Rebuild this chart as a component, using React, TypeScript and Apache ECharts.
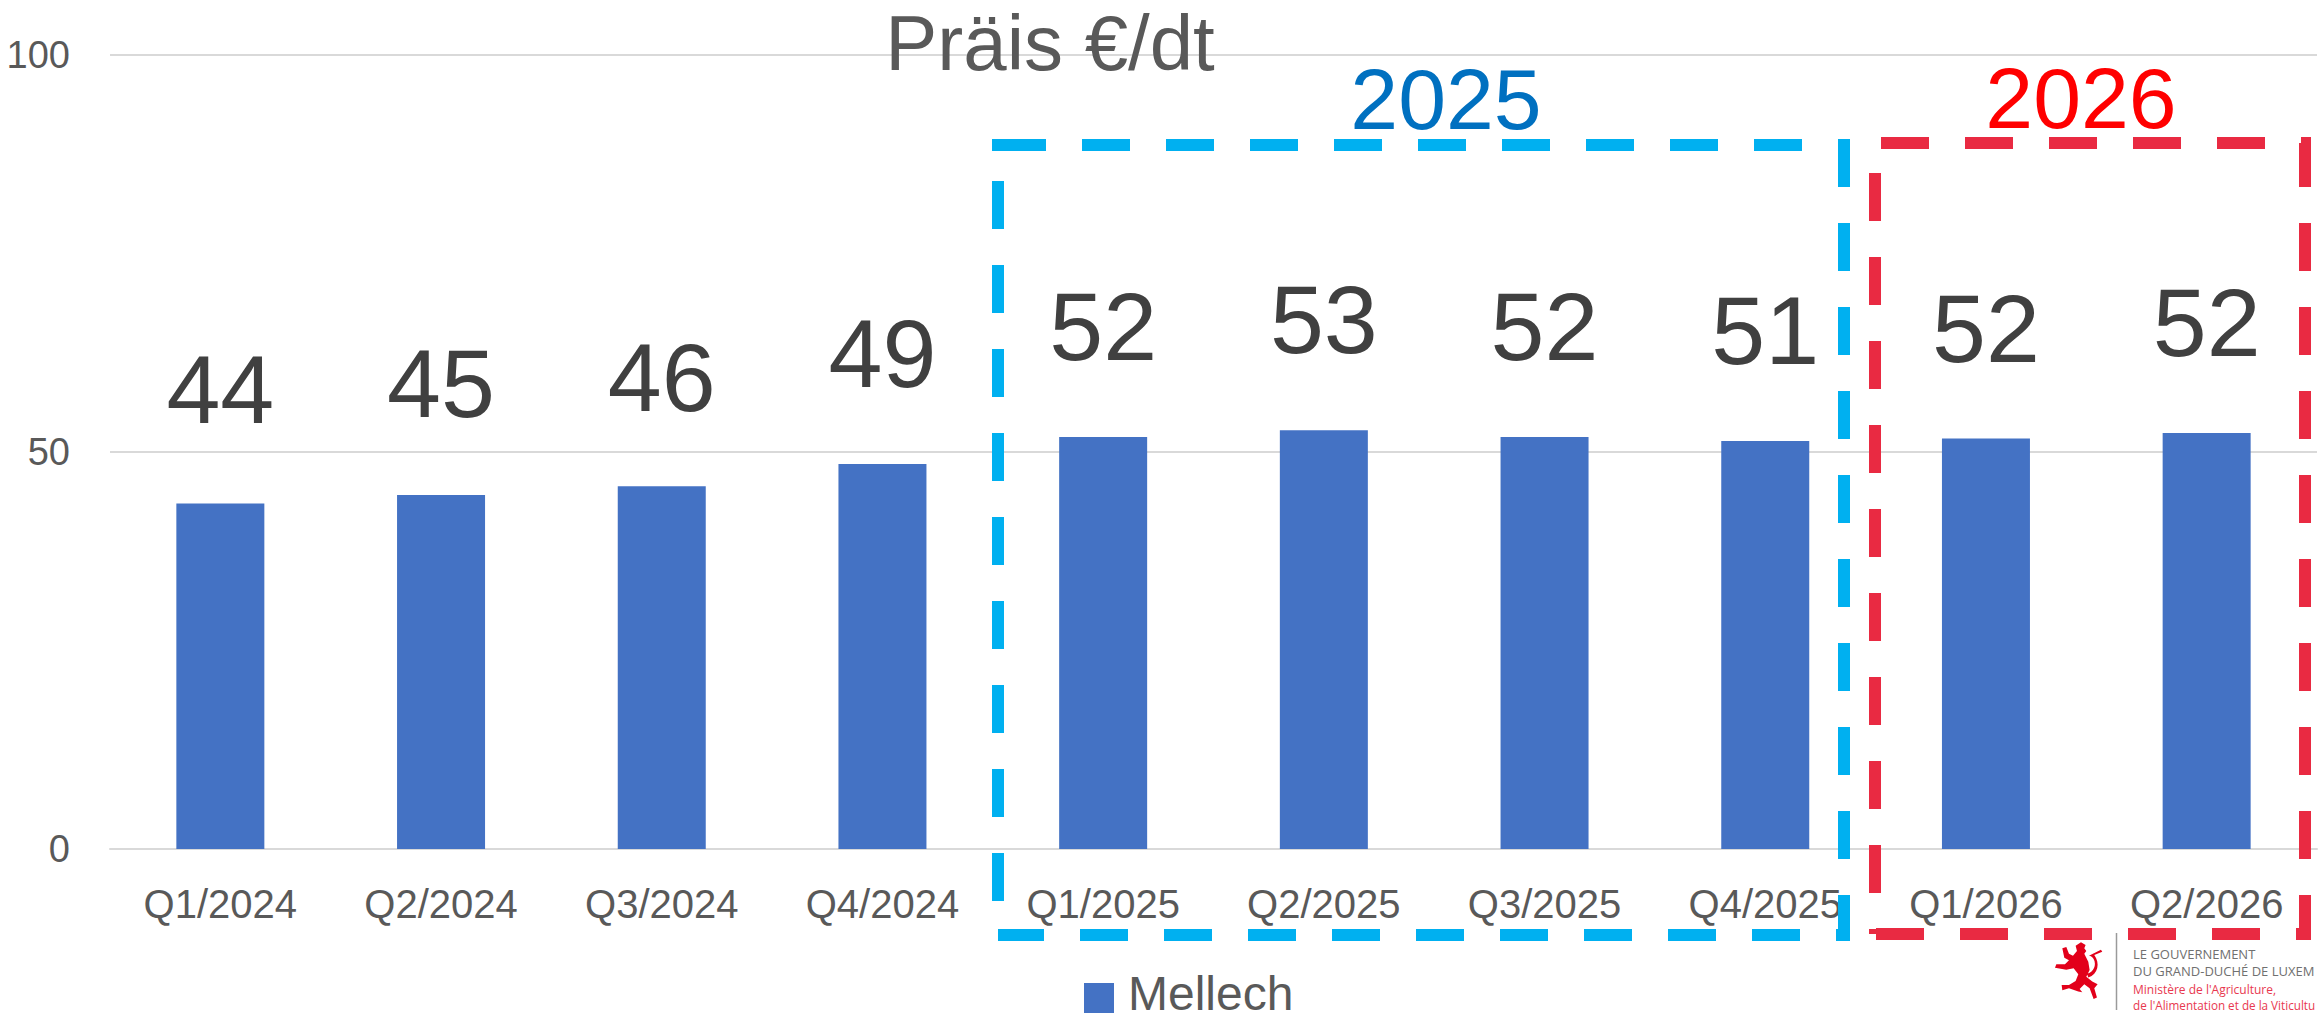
import React, { useEffect, useRef } from "react";
import * as echarts from "echarts";

const categories = ["Q1/2024", "Q2/2024", "Q3/2024", "Q4/2024", "Q1/2025", "Q2/2025", "Q3/2025", "Q4/2025", "Q1/2026", "Q2/2026"];
const values = [43.5, 44.6, 45.7, 48.5, 51.9, 52.75, 51.9, 51.4, 51.7, 52.4];
const valueLabels = ["44", "45", "46", "49", "52", "53", "52", "51", "52", "52"];
const seriesName = "Mellech";
const chartTitle = "Präis €/dt";
const yearLabels = ["2025", "2026"];
const logoLines = ["LE GOUVERNEMENT", "DU GRAND-DUCHÉ DE LUXEM", "Ministère de l'Agriculture,", "de l'Alimentation et de la Viticultu"];

const FONT = "'Liberation Sans', Arial, sans-serif";
const LION =
  "M92 32 L108 22 L122 30 L118 40 L124 48 L118 56 L130 80 L134 105 L124 125 L142 140 L158 148 L148 160 L156 188 L146 192 L134 160 L118 148 L104 162 L112 172 L100 170 L72 160 L52 166 L50 150 L72 150 L92 138 L100 118 L86 100 L64 104 L30 98 L34 88 L60 88 L72 76 L58 68 L52 40 L64 36 L72 56 L84 62 L96 48 Z " +
  "M126 116 C146 112 156 90 146 72 C143 66 138 62 132 62 L168 44 L172 50 L148 60 C166 84 160 118 130 128 Z";

echarts.graphic.registerShape("lion", echarts.graphic.extendPath(LION, {}) as any);

function dashed(points: number[][], color: string, offset: number) {
  return {
    type: "polyline",
    shape: { points },
    style: { fill: "none", stroke: color, lineWidth: 12, lineDash: [48, 36], lineDashOffset: offset },
    silent: true,
    z: 5,
  };
}

function labelDistance(i: number) {
  if (i === 0) return 66;
  if (i === 1) return 63;
  if (i === 2) return 60;
  return 62;
}

export default function App() {
  const ref = useRef<HTMLDivElement>(null);
  useEffect(() => {
    document.body.style.margin = "0";
    const chart = echarts.init(ref.current!, undefined, { renderer: "svg" });
    chart.setOption({
      animation: false,
      backgroundColor: "#ffffff",
      title: {
        text: chartTitle,
        left: 1050,
        top: 4,
        textAlign: "center",
        textStyle: { fontFamily: FONT, fontSize: 78, fontWeight: "normal", color: "#595959" },
        padding: 0,
      },
      legend: {
        left: 1084,
        top: 969,
        itemWidth: 30,
        itemHeight: 40,
        icon: "path://M0 0L0 0ZM0 10H30V40H0Z",
        padding: 0,
        data: [seriesName],
        textStyle: { fontFamily: FONT, fontSize: 48, lineHeight: 40, color: "#595959", padding: [0, 0, 0, 9] },
      },
      grid: { left: 110, right: 1, top: 55, height: 794, containLabel: false },
      xAxis: {
        type: "category",
        data: categories,
        axisTick: { show: false },
        axisLine: { show: true, lineStyle: { color: "#D9D9D9", width: 2 } },
        axisLabel: { fontFamily: FONT, fontSize: 40, color: "#595959", margin: 35, interval: 0 },
      },
      yAxis: {
        type: "value",
        min: 0,
        max: 100,
        interval: 50,
        axisLine: { show: false },
        axisTick: { show: false },
        splitLine: { lineStyle: { color: "#D9D9D9", width: 2 } },
        axisLabel: { fontFamily: FONT, fontSize: 38, color: "#595959", margin: 40 },
      },
      series: [
        {
          name: seriesName,
          type: "bar",
          data: values.map((value, i) => ({ value, label: { distance: labelDistance(i) } })),
          barWidth: 88,
          itemStyle: { color: "#4472C4" },
          label: {
            show: true,
            position: "top",
            fontFamily: FONT,
            fontSize: 97,
            color: "#404040",
            formatter: (p: any) => valueLabels[p.dataIndex],
          },
        },
      ],
      graphic: [
        dashed([[992, 145], [998, 145]], "#00B0F0", 0),
        dashed([[998, 145], [1844, 145], [1844, 935], [998, 935]], "#00B0F0", 0),
        dashed([[998, 935], [998, 145]], "#00B0F0", 50),
        dashed([[1875, 143], [2305, 143], [2305, 934], [1875, 934]], "#E92A42", 78),
        dashed([[1875, 934], [1875, 143]], "#E92A42", 43),
        {
          type: "text",
          x: 1446,
          y: 99,
          z: 6,
          style: { text: yearLabels[0], fill: "#0070C0", font: `86px ${FONT}`, textAlign: "center", textVerticalAlign: "middle" },
        },
        {
          type: "text",
          x: 2081,
          y: 98,
          z: 6,
          style: { text: yearLabels[1], fill: "#FF0000", font: `86px ${FONT}`, textAlign: "center", textVerticalAlign: "middle" },
        },
        { type: "lion", x: 2045, y: 935, scaleX: 1 / 3, scaleY: 1 / 3, style: { fill: "#E2001A" }, silent: true },
        { type: "line", shape: { x1: 2116.5, y1: 933, x2: 2116.5, y2: 1010 }, style: { stroke: "#9A9A9A", lineWidth: 1.5 }, silent: true },
        ...logoLines.map((t, i) => ({
          type: "text",
          x: 2133,
          y: [954, 971, 989, 1005][i],
          style: {
            text: t,
            fill: i < 2 ? "#707070" : "#E8384F",
            font: `${i < 2 ? 13 : i === 2 ? 12 : 11.7}px 'Open Sans', sans-serif`,
            textVerticalAlign: "middle",
          },
          silent: true,
        })),
      ],
    });
    return () => chart.dispose();
  }, []);
  return <div ref={ref} style={{ width: 2318, height: 1017 }} />;
}
